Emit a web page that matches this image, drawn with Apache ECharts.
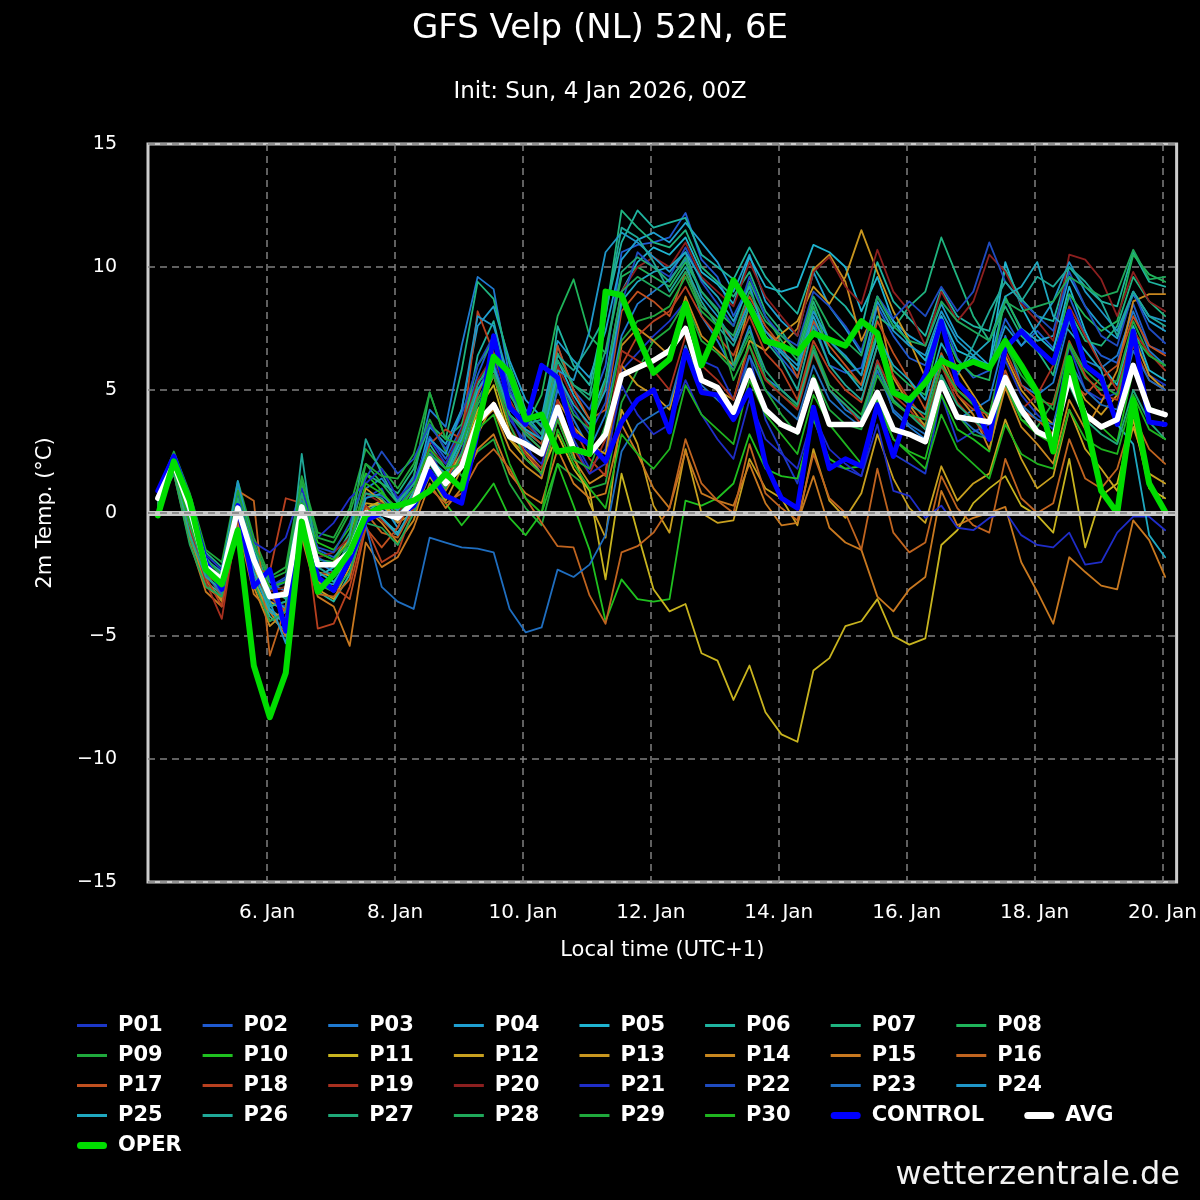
<!DOCTYPE html>
<html>
<head>
<meta charset="utf-8">
<script src="https://cdn.jsdelivr.net/npm/echarts@6/dist/echarts.min.js"></script>
<style>html,body{margin:0;padding:0;background:#000}#c{width:1200px;height:1200px}</style>
</head>
<body>
<div id="c"></div>
<script>
const FONT = 'DejaVu Sans';
// lead times: local hours since 4 Jan 00:00 (UTC+1); 6-hourly from 06Z
const firstHour = 7, stepHours = 6;
const dayTicks  = [48, 96, 144, 192, 240, 288, 336, 384];
const dayLabels = ['6. Jan', '8. Jan', '10. Jan', '12. Jan', '14. Jan', '16. Jan', '18. Jan', '20. Jan'];

const memberNames = ['P01','P02','P03','P04','P05','P06','P07','P08','P09','P10',
  'P11','P12','P13','P14','P15','P16','P17','P18','P19','P20',
  'P21','P22','P23','P24','P25','P26','P27','P28','P29','P30'];
const memberColors = ['#1c37c8','#1f5ad0','#1f7ad0','#1f9fd0','#1fb4d0','#1fb4a0','#1fb47f','#1fb45a','#1fa83c','#1fc01f',
  '#c8b41f','#c8a01f','#c8961f','#c8871f','#c8781f','#c0641f','#c0501f','#b8401f','#a8301f','#8c1f1f',
  '#1f2dc8','#1f4bc0','#1f6ec0','#1f96c8','#1fa8c0','#1fa898','#1fa878','#1fa85a','#1fa83c','#1fb41f'];

const P01 = [0.9,2.3,-0.8,-2.6,-3.2,0.6,-2.4,-3.6,-3.8,0.3,-2.6,-3.1,-2.0,0.6,1.0,-0.4,0.4,
  2.6,1.2,2.5,4.8,6.2,3.8,2.9,1.5,5.2,3.0,1.8,
  2.6,5.8,6.5,7.2,7.8,8.6,6.2,5.9,4.6,6.4,3.8,2.5,1.2,3.9,2.0,1.8,1.5,4.2,2.4,2.0,1.6,4.8,2.9,3.3,3.6,6.2,4.8,4.0,3.4,6.8,5.0,4.6,4.9,7.3,5.6,5.2];
const P02 = [0.8,2.1,0.0,-2.0,-2.4,0.9,-1.6,-3.0,-2.7,0.8,-1.5,-1.8,-1.2,0.8,0.7,0.2,1.2,
  3.1,2.2,3.5,5.6,7.2,5.2,4.0,3.6,6.8,5.0,4.2,
  6.0,10.6,10.9,11.0,11.2,12.2,10.3,9.6,8.0,9.3,7.2,6.3,5.5,7.8,6.0,5.7,5.9,8.4,7.2,6.3,6.0,8.0,6.3,5.5,5.8,7.9,6.8,7.4,6.7,8.8,7.2,6.4,6.1,8.5,6.8,6.5];
const P03 = [0.7,2.4,0.5,-1.8,-2.6,1.2,-1.2,-2.8,-3.2,0.6,-2.0,-2.4,-1.4,1.0,1.4,0.5,1.5,
  4.2,3.5,6.8,9.6,9.1,5.5,3.0,2.4,5.0,3.8,2.6,
  4.0,7.2,8.5,9.0,9.5,10.3,8.0,7.0,5.8,7.6,5.5,5.0,4.4,6.8,5.0,4.2,3.8,6.2,4.1,3.5,3.0,5.6,3.8,4.2,4.6,7.2,5.2,4.8,5.3,7.8,6.2,5.9,6.4,8.2,6.6,6.0];
const P04 = [0.6,1.9,-0.3,-2.3,-3.0,0.0,-2.0,-3.4,-3.9,0.0,-2.8,-2.9,-1.7,0.2,0.4,-0.6,0.8,
  3.5,2.8,4.2,7.6,8.4,6.2,4.6,3.9,7.0,6.2,5.5,
  7.4,10.3,11.1,11.4,11.0,11.8,11.0,10.2,9.0,10.5,8.6,7.8,7.2,9.8,8.4,7.5,6.5,8.8,7.8,7.2,6.8,8.5,7.2,6.6,6.0,8.7,7.5,7.0,7.2,9.6,8.4,7.6,7.1,8.9,7.8,7.4];
const P05 = [0.4,1.8,0.3,-1.9,-2.5,0.4,-2.1,-3.9,-4.4,-0.4,-2.6,-2.2,-1.4,0.3,-0.2,-0.8,0.2,
  2.0,1.0,2.2,5.3,6.0,4.2,3.6,3.0,6.2,4.8,3.8,
  5.5,9.0,10.2,10.8,10.5,11.2,9.8,9.3,8.5,10.4,9.2,9.0,9.2,10.9,10.6,10.0,8.2,9.6,7.8,6.9,6.2,8.0,6.6,6.3,6.0,10.2,8.4,7.2,6.6,9.2,7.4,6.0,5.2,7.6,5.8,5.4];
const P06 = [0.3,2.0,-0.6,-2.8,-3.3,0.2,-2.6,-4.2,-4.8,-0.8,-3.2,-3.6,-2.5,0.0,0.5,-0.3,0.9,
  2.8,1.8,3.0,6.4,7.8,5.0,3.3,2.8,7.6,6.0,5.2,
  8.2,11.0,12.3,11.6,11.8,12.0,10.5,10.0,9.5,10.8,9.6,8.8,8.1,10.0,9.0,8.4,7.5,10.2,8.6,7.9,7.2,9.1,8.0,7.6,7.4,9.9,8.7,8.0,7.8,10.0,9.2,8.6,8.4,10.6,9.4,9.2];
const P07 = [0.5,2.2,0.6,-1.6,-2.2,1.0,-1.4,-3.0,-3.5,1.2,-1.6,-1.9,-0.8,1.6,1.2,0.8,1.8,
  3.6,3.0,5.8,9.4,8.7,6.0,4.2,3.5,6.5,5.2,4.8,
  8.0,12.3,11.6,11.0,10.8,11.5,10.0,9.4,8.8,9.8,8.2,7.4,6.4,8.6,7.0,6.3,5.6,8.0,7.5,8.4,9.0,11.2,9.6,8.0,7.0,8.4,7.2,6.6,5.6,8.2,7.0,6.8,7.6,9.6,8.6,8.0];
const P08 = [0.2,1.7,-1.0,-2.9,-3.4,-0.3,-2.4,-3.8,-3.6,0.4,-1.9,-2.0,-1.1,2.0,1.2,0.4,1.4,
  4.9,3.0,3.6,6.0,7.0,4.4,3.5,4.8,8.0,9.5,7.2,
  6.5,9.6,10.0,9.6,9.2,10.2,9.0,8.2,7.6,9.4,8.0,7.0,6.2,8.4,6.5,5.8,5.2,7.4,5.8,5.2,4.8,7.6,6.2,5.6,5.4,8.8,7.4,6.6,6.2,8.9,8.0,7.4,7.8,10.5,9.7,9.4];
const P09 = [0.9,2.5,0.8,-1.5,-2.0,1.3,-1.0,-2.6,-2.2,1.5,-0.8,-1.0,0.2,2.6,1.8,1.0,2.0,
  3.8,2.5,1.5,2.5,3.0,1.2,0.2,-0.5,2.0,1.5,1.0,
  1.2,4.5,5.8,7.0,7.5,8.6,7.0,6.5,5.8,7.2,5.5,4.8,4.3,6.8,5.2,4.6,4.0,6.0,4.5,4.0,3.6,5.5,4.0,3.2,3.0,5.2,3.8,3.5,4.5,6.8,5.5,5.0,5.4,7.8,6.4,6.0];
const P10 = [0.5,2.0,0.4,-2.1,-2.6,0.8,-1.8,-3.2,-3.0,0.8,-1.2,-1.5,-0.6,1.6,0.9,0.0,0.6,
  1.5,0.4,-0.5,0.3,1.2,-0.2,-0.9,0.0,2.0,0.3,-1.5,
  -4.4,-2.7,-3.5,-3.6,-3.5,0.5,0.3,0.6,1.2,3.2,1.8,1.5,1.4,3.8,2.2,1.8,1.9,4.6,3.0,2.5,2.2,4.8,3.4,3.0,2.5,5.4,3.8,3.2,2.8,5.6,4.0,3.5,2.9,5.8,4.3,4.0];
const P11 = [0.6,1.9,0.0,-2.4,-3.0,0.2,-2.2,-3.6,-4.0,0.0,-2.4,-2.6,-1.9,0.2,0.5,-0.3,0.6,
  2.0,1.4,2.4,4.2,5.2,3.0,2.2,1.6,3.2,1.8,0.9,
  -2.7,1.6,-0.8,-3.1,-4.0,-3.7,-5.7,-6.0,-7.6,-6.2,-8.1,-9.0,-9.3,-6.4,-5.9,-4.6,-4.4,-3.5,-5.0,-5.35,-5.1,-1.3,-0.7,0.4,1.0,1.5,0.3,-0.1,-0.8,2.2,-1.4,0.7,1.2,3.8,1.0,0.6];
const P12 = [0.7,2.0,0.2,-2.3,-3.1,-0.3,-2.7,-4.4,-3.9,-0.5,-3.1,-3.5,-2.2,0.4,0.3,-0.2,0.5,
  2.2,1.5,2.2,4.0,5.6,3.3,2.5,1.8,4.0,2.4,0.4,
  -1.0,4.2,2.8,0.3,-0.8,2.6,0.0,-0.4,-0.3,2.2,1.0,0.6,-0.5,2.6,0.5,-0.2,0.8,3.2,1.4,0.2,-0.4,1.9,0.5,1.2,1.6,3.8,2.2,1.0,1.5,4.2,2.6,1.8,0.9,3.5,1.6,1.2];
const P13 = [0.6,1.8,-0.4,-2.7,-3.6,0.0,-2.8,-4.0,-4.3,-0.3,-2.2,-2.0,-1.0,1.0,0.5,-0.4,0.0,
  1.5,0.5,1.8,3.2,4.5,3.0,2.4,1.6,4.6,3.5,2.8,
  2.4,6.0,5.2,4.8,4.2,6.6,5.5,5.0,4.6,7.0,6.6,7.3,7.8,9.2,8.5,9.6,11.5,9.8,8.2,7.0,5.5,7.6,5.8,4.8,3.8,6.4,5.0,4.2,3.6,5.8,4.6,4.0,4.8,7.2,5.6,5.0];
const P14 = [0.5,1.7,-0.8,-3.0,-3.5,-0.4,-3.0,-4.6,-4.0,-0.4,-2.8,-3.2,-2.0,0.2,-0.4,-1.2,-0.3,
  1.8,0.9,2.0,3.6,4.2,2.6,1.9,1.4,3.8,2.2,1.2,
  1.6,6.8,7.5,7.0,6.4,8.8,7.2,6.6,6.0,8.5,7.4,6.8,7.5,9.9,10.5,9.4,7.0,8.4,5.5,4.4,3.5,6.2,4.8,4.0,2.6,5.1,3.5,2.8,2.0,4.6,3.4,4.5,5.8,8.6,8.9,8.9];
const P15 = [0.4,1.6,-1.2,-3.2,-3.8,-0.5,-3.3,-4.0,-5.0,-1.0,-3.4,-3.8,-5.4,-1.2,-2.2,-1.8,-0.6,
  1.2,0.2,1.0,2.6,3.2,1.6,0.8,0.4,2.6,1.2,0.6,
  0.8,3.6,2.4,1.0,0.2,2.5,0.8,0.5,0.3,2.0,0.4,-0.5,-0.4,1.5,-0.6,-1.2,-1.5,-3.4,-4.0,-3.1,-2.6,0.9,-0.5,-0.2,0.0,0.25,-2.0,-3.2,-4.5,-1.8,-2.4,-2.95,-3.1,-0.3,-1.1,-2.6];
const P16 = [0.8,1.9,-0.2,-2.0,-2.8,0.9,0.5,-5.8,-3.8,0.4,-3.3,-3.4,-2.7,0.0,-0.8,-1.0,0.2,
  1.0,0.4,0.8,2.0,2.6,1.8,0.6,-0.4,-1.35,-1.4,-3.35,
  -4.5,-1.6,-1.35,-0.8,0.2,3.0,1.2,0.5,0.0,2.8,0.8,0.2,-0.3,2.4,0.6,0.0,-1.5,1.8,-0.8,-1.6,-1.2,1.5,0.2,-0.5,-0.8,2.2,0.6,0.0,0.4,3.0,1.4,1.0,1.8,4.0,2.6,2.0];
const P17 = [0.7,2.1,-0.6,-2.4,-3.4,0.3,-2.0,-3.4,-4.0,-0.2,-2.9,-3.0,-3.5,-0.6,-1.4,-0.6,0.7,
  2.4,1.2,2.8,4.8,6.5,4.4,3.2,2.6,6.8,5.0,3.8,
  4.2,8.2,9.0,8.6,8.0,9.8,8.4,7.8,7.0,8.8,7.6,6.8,5.5,7.8,6.8,6.0,5.2,7.8,6.5,5.4,4.2,6.5,5.0,4.5,3.6,5.8,4.2,3.8,3.2,5.4,4.8,5.5,6.0,8.0,6.8,6.4];
const P18 = [0.8,2.2,-0.2,-2.6,-3.8,0.1,-2.3,-2.4,0.6,0.4,-4.7,-4.5,-3.0,-0.5,-2.0,-1.6,0.2,
  2.8,3.4,3.0,8.2,6.5,4.6,3.4,2.8,6.0,3.5,2.2,
  1.5,6.0,7.2,7.8,8.2,9.2,8.0,7.2,6.4,8.0,6.5,5.8,4.6,7.0,5.8,5.0,4.5,6.8,5.6,4.6,3.8,6.0,4.8,4.2,4.0,6.6,5.2,4.6,4.4,7.0,5.6,4.8,4.6,6.8,5.4,5.0];
const P19 = [0.6,1.9,-0.6,-2.8,-4.3,-0.2,-2.5,-3.5,-3.1,0.0,-2.5,-2.4,-1.5,0.3,-0.3,-0.9,0.3,
  2.4,1.0,2.2,4.6,5.8,3.6,2.4,1.8,4.6,2.6,1.6,
  3.0,6.6,6.2,5.8,5.0,7.2,6.0,5.4,4.6,6.8,5.4,4.8,4.2,6.5,5.0,4.4,3.6,6.2,4.8,4.2,3.4,6.0,4.5,3.8,3.0,5.6,4.2,4.8,6.0,8.4,7.2,6.0,5.0,7.4,6.5,5.8];
const P20 = [0.5,2.0,0.1,-2.2,-2.9,0.6,-1.7,-3.2,-3.0,0.6,-1.8,-1.6,-1.0,0.8,0.4,0.0,1.0,
  2.6,2.0,3.4,5.4,6.4,4.5,3.6,3.0,6.0,4.6,3.4,
  5.2,9.0,10.0,10.4,10.0,11.0,9.6,9.0,8.4,10.2,8.8,8.0,7.2,9.8,10.4,9.2,8.5,10.7,9.0,8.2,6.8,9.0,7.8,8.6,10.5,9.8,8.5,7.8,7.0,10.5,10.3,9.5,8.0,9.8,8.6,8.2];
const P21 = [0.9,2.4,0.6,-1.7,-2.3,0.7,-1.2,-1.6,-1.0,1.0,-1.0,-0.4,0.6,1.2,1.8,0.6,1.3,
  3.0,2.0,3.2,5.0,6.2,4.0,2.6,2.0,4.0,2.8,1.6,
  2.0,5.2,4.0,3.2,3.6,5.4,4.0,3.0,2.2,4.6,3.0,2.4,1.8,4.0,2.6,2.0,1.5,3.6,0.9,0.7,-0.2,0.3,-0.6,-0.7,-0.2,0.05,-0.9,-1.3,-1.4,-0.8,-2.1,-2.0,-0.8,-0.15,-0.15,-0.7];
const P22 = [0.7,2.3,-0.4,-2.2,-2.8,0.8,-2.0,-3.0,-2.6,0.2,-1.4,-1.6,-0.4,1.4,2.5,1.6,2.2,
  3.6,2.6,4.0,6.0,7.2,5.0,3.8,3.0,5.6,4.2,3.2,
  4.5,8.5,10.6,10.0,9.6,10.8,9.4,8.5,7.6,9.6,8.0,7.2,6.8,9.0,8.4,7.6,6.6,8.8,7.9,8.6,8.0,9.2,8.2,9.0,11.0,9.4,8.6,8.0,7.4,9.8,8.4,7.2,6.8,9.0,7.5,6.9];
const P23 = [0.8,2.2,-0.4,-2.5,-3.3,0.4,-2.2,-3.1,-2.8,0.5,-1.8,-2.2,-1.6,-0.5,-3.0,-3.6,-3.9,
  -1.0,-1.2,-1.4,-1.45,-1.6,-3.9,-4.85,-4.65,-2.3,-2.6,-2.1,
  -0.9,2.5,3.6,4.0,4.4,6.8,5.2,4.6,4.0,6.4,5.0,4.4,3.8,6.0,4.6,4.0,3.5,5.8,4.2,3.6,3.2,5.4,4.0,3.4,3.0,5.6,4.4,3.8,3.6,6.2,5.0,4.4,4.2,6.6,5.4,5.0];
const P24 = [0.7,2.1,0.4,-1.9,-2.4,1.3,-1.6,-3.6,-5.3,-0.5,-3.0,-2.6,-1.8,0.6,0.8,0.1,1.0,
  3.0,2.4,4.2,8.0,7.6,5.4,4.0,3.2,5.8,5.4,7.4,
  10.6,11.4,11.0,10.4,9.8,10.6,8.8,8.0,7.0,8.6,7.4,6.6,6.0,8.2,7.0,6.4,5.6,8.6,7.4,6.8,6.4,8.2,7.0,6.4,5.8,7.6,6.8,7.6,8.6,10.2,9.0,8.2,7.4,9.0,8.0,7.8];
const P25 = [0.5,1.8,-0.2,-2.4,-2.9,0.0,-2.4,-4.0,-4.5,-0.2,-2.4,-2.8,-1.9,0.0,-0.2,-0.9,0.4,
  2.2,1.6,3.0,5.0,6.0,4.0,3.4,3.0,5.6,4.4,3.6,
  5.0,8.6,9.4,9.8,10.0,10.6,9.5,8.8,7.8,9.2,7.2,6.5,5.8,8.0,6.5,5.8,5.0,7.2,6.0,5.4,4.6,6.9,5.8,6.4,7.0,8.8,9.2,10.2,8.0,7.4,6.6,5.8,3.6,2.8,-0.9,-1.8];
const P26 = [0.3,1.9,-0.9,-2.6,-3.1,0.5,-2.0,-3.8,-3.6,2.4,-2.2,-2.6,-1.0,3.0,1.6,0.4,1.2,
  2.0,1.5,2.8,4.6,5.8,4.2,3.6,3.8,6.4,5.8,6.8,
  8.0,11.6,11.2,10.2,9.0,10.0,8.6,7.6,6.8,8.4,7.0,6.2,5.0,7.6,6.0,5.2,4.6,6.8,5.0,4.4,4.0,6.4,5.6,6.8,8.2,9.4,8.6,9.6,9.2,10.0,9.4,8.6,7.2,9.0,8.0,7.6];
const P27 = [0.4,2.0,-0.5,-2.3,-2.8,0.6,-1.7,-3.4,-3.2,0.8,-2.0,-2.2,-1.3,0.8,0.6,-0.1,0.6,
  2.4,1.8,3.2,5.2,6.4,4.8,3.8,3.2,6.2,5.2,4.6,
  6.6,9.8,10.4,10.0,9.4,10.4,9.0,8.3,6.0,7.4,5.8,5.0,4.4,6.6,5.0,4.4,3.8,6.0,4.6,4.0,3.4,5.6,4.4,3.8,3.2,5.4,4.0,3.4,3.0,5.2,3.8,3.2,2.8,5.0,3.7,3.0];
const P28 = [0.2,1.6,-1.3,-3.0,-3.4,-0.6,-2.8,-4.4,-4.0,0.0,-2.9,-3.2,-2.4,-0.4,-0.6,-1.3,0.0,
  1.6,1.0,2.4,4.4,5.6,4.0,3.2,2.6,5.4,4.0,3.4,
  5.4,9.0,9.6,9.2,8.8,9.8,8.4,7.8,7.2,9.0,7.8,7.2,6.6,8.8,7.6,7.0,6.4,8.8,7.6,7.0,6.8,8.6,7.8,7.4,7.0,8.6,8.2,8.4,8.6,9.6,9.2,8.8,9.0,10.7,9.5,9.6];
const P29 = [0.6,2.1,0.5,-1.9,-2.5,0.9,-1.3,-2.7,-2.4,1.3,-1.0,-1.2,0.0,2.0,1.5,1.4,2.4,
  4.9,3.0,2.8,4.6,5.6,3.6,2.2,1.6,3.8,2.2,1.8,
  3.6,7.0,7.8,8.0,8.4,9.6,8.2,7.6,5.4,6.8,5.0,4.0,3.2,5.6,4.2,3.6,3.4,5.6,4.5,4.0,3.8,6.0,5.0,4.4,4.0,6.8,5.6,4.8,4.2,6.9,5.8,5.2,4.8,7.2,6.4,6.0];
const P30 = [0.3,1.8,-0.4,-2.2,-2.7,0.3,-1.8,-3.0,-2.8,0.4,-1.6,-1.9,-1.2,1.2,0.8,0.2,1.0,
  2.6,1.8,2.0,3.4,4.0,2.0,0.6,0.0,3.4,2.0,1.0,
  0.2,3.2,2.4,1.8,2.6,5.2,4.0,3.4,2.8,5.4,4.0,3.2,2.4,4.8,3.6,2.8,2.0,4.4,3.0,2.4,1.8,4.0,2.6,2.0,1.4,3.6,2.4,2.0,1.8,4.2,3.0,2.6,2.4,4.8,3.4,3.0];

const CONTROL = [0.9,2.3,0.5,-2.0,-3.1,0.3,-3.0,-2.3,-4.8,-0.1,-2.6,-3.15,-1.9,-0.3,0.0,-0.1,0.3,
  1.7,0.7,0.4,3.3,7.2,4.3,3.6,6.0,5.5,3.2,2.8,
  2.1,3.7,4.6,5.0,3.3,6.6,4.9,4.8,3.8,5.0,2.0,0.6,0.2,4.3,1.8,2.2,1.9,4.4,2.3,4.4,5.6,7.8,5.3,4.6,3.0,6.7,7.4,6.7,6.1,8.2,6.0,5.5,3.6,7.4,3.7,3.6];
const AVG = [0.6,2.0,0.2,-2.2,-2.7,0.2,-1.9,-3.4,-3.3,0.25,-2.1,-2.1,-1.6,0.0,0.0,-0.2,0.45,
  2.2,1.2,1.9,3.7,4.4,3.1,2.8,2.4,4.3,2.6,2.4,
  3.2,5.6,5.9,6.2,6.6,7.5,5.4,5.1,4.1,5.8,4.2,3.6,3.3,5.4,3.6,3.6,3.6,4.9,3.4,3.2,2.9,5.3,3.9,3.8,3.7,5.5,4.2,3.3,3.0,5.5,4.0,3.5,3.8,6.0,4.2,4.0];
const OPER = [-0.1,2.1,0.5,-2.3,-2.9,-0.7,-6.2,-8.3,-6.5,-0.35,-3.2,-2.5,-1.6,-0.1,0.25,0.3,0.5,
  0.9,1.6,1.0,3.5,6.35,5.7,3.8,4.0,2.5,2.6,2.4,
  9.0,8.85,7.2,5.7,6.25,8.5,6.0,7.5,9.46,8.4,7.0,6.8,6.5,7.3,7.05,6.8,7.8,7.3,4.9,4.6,5.3,6.2,5.9,6.15,5.9,7.0,6.0,4.9,2.5,6.3,3.8,0.9,0.0,4.6,1.2,0.05];

const members = [P01,P02,P03,P04,P05,P06,P07,P08,P09,P10,P11,P12,P13,P14,P15,P16,P17,P18,P19,P20,
  P21,P22,P23,P24,P25,P26,P27,P28,P29,P30];
const times = AVG.map((_, i) => firstHour + i * stepHours);
const toPairs = vals => vals.map((v, i) => [times[i], v]);

const chart = echarts.init(document.getElementById('c'), null, {renderer: 'canvas'});

const series = [];
series.push({
  name: 'zero', type: 'line', data: [], silent: true, z: 1,
  markLine: {
    silent: true, symbol: ['none', 'none'], label: {show: false}, animation: false,
    data: [
      {yAxis: 0, lineStyle: {color: '#c8c8c8', width: 5, type: 'solid'}},
      {yAxis: 0, lineStyle: {color: '#7a7a7a', width: 1.5, type: [7, 5]}}
    ]
  }
});
members.forEach((vals, k) => {
  series.push({
    name: memberNames[k], type: 'line', data: toPairs(vals), symbol: 'none', showSymbol: false,
    silent: true, z: 2,
    lineStyle: {color: memberColors[k], width: 1.8, join: 'round', cap: 'round'},
    itemStyle: {color: memberColors[k]}
  });
});
const thick = [
  {name: 'CONTROL', vals: CONTROL, color: '#0000ff', width: 5},
  {name: 'AVG', vals: AVG, color: '#ffffff', width: 5.5},
  {name: 'OPER', vals: OPER, color: '#00dd00', width: 6}
];
thick.forEach(t => {
  series.push({
    name: t.name, type: 'line', data: toPairs(t.vals), symbol: 'none', showSymbol: false,
    silent: true, z: 3,
    lineStyle: {color: t.color, width: t.width, join: 'round', cap: 'round'},
    itemStyle: {color: t.color}
  });
});

const thinIcon  = 'path://M0,0 L30,0 L30,3 L0,3 Z';
const thickIcon = 'path://M3.5,0 L26.5,0 A3.5,3.5 0 0 1 26.5,7 L3.5,7 A3.5,3.5 0 0 1 3.5,0 Z';
const legendRows = [memberNames.slice(0, 8), memberNames.slice(8, 16), memberNames.slice(16, 24),
  memberNames.slice(24, 30).concat(['CONTROL', 'AVG']), ['OPER']];
const thickNames = ['CONTROL', 'AVG', 'OPER'];
const legends = legendRows.map((row, r) => ({
  data: row.map(n => ({name: n, icon: thickNames.includes(n) ? thickIcon : thinIcon})),
  left: 77, top: 1015 + r * 30, orient: 'horizontal', padding: 0,
  itemWidth: 30, itemHeight: 14, itemGap: 40, selectedMode: false, symbolKeepAspect: true,
  textStyle: {color: '#ffffff', fontFamily: FONT, fontWeight: 'bold', fontSize: 21, padding: [0, 0, 0, 6]}
}));

const option = {
  backgroundColor: '#000000',
  animation: false,
  textStyle: {fontFamily: FONT},
  title: [
    {text: 'GFS Velp (NL) 52N, 6E', left: 'center', top: 12, padding: 0,
     textStyle: {color: '#ffffff', fontFamily: FONT, fontWeight: 'normal', fontSize: 34, lineHeight: 34}},
    {text: 'Init: Sun, 4 Jan 2026, 00Z', left: 'center', top: 81, padding: 0,
     textStyle: {color: '#ffffff', fontFamily: FONT, fontWeight: 'normal', fontSize: 23, lineHeight: 23}}
  ],
  legend: legends,
  grid: {left: 148, right: 20, top: 144, bottom: 318, show: true, borderColor: '#cccccc', borderWidth: 3,
         backgroundColor: 'transparent', containLabel: false},
  xAxis: {
    type: 'value', min: 3.3, max: 389.3,
    axisLine: {show: false},
    axisTick: {show: true, customValues: dayTicks, length: 6, lineStyle: {color: '#ccd6eb', width: 1.5}},
    axisLabel: {customValues: dayTicks, color: '#ffffff', fontFamily: FONT, fontSize: 20, margin: 21,
      formatter: v => { const k = dayTicks.indexOf(v); return k >= 0 ? dayLabels[k] : ''; }},
    splitLine: {show: true, lineStyle: {color: '#808080', width: 1.5, type: [7, 5]}},
    name: 'Local time (UTC+1)', nameLocation: 'middle', nameGap: 58,
    nameTextStyle: {color: '#ffffff', fontFamily: FONT, fontSize: 21}
  },
  yAxis: {
    type: 'value', min: -15, max: 15, interval: 5,
    axisLine: {show: false}, axisTick: {show: false},
    axisLabel: {color: '#ffffff', fontFamily: FONT, fontSize: 19, margin: 31,
      formatter: v => (v < 0 ? '\u2212' + Math.abs(v) : String(v))},
    splitLine: {show: true, lineStyle: {color: '#808080', width: 1.5, type: [7, 5]}},
    name: '2m Temp. (°C)', nameLocation: 'middle', nameRotate: 90, nameGap: 92,
    nameTextStyle: {color: '#ffffff', fontFamily: FONT, fontSize: 21}
  },
  graphic: [
    {type: 'text', right: 20, top: 1160, silent: true,
     style: {text: 'wetterzentrale.de', fill: '#f2f2f2', font: '32px "DejaVu Sans"'}}
  ],
  series: series
};
chart.setOption(option);
</script>
</body>
</html>
